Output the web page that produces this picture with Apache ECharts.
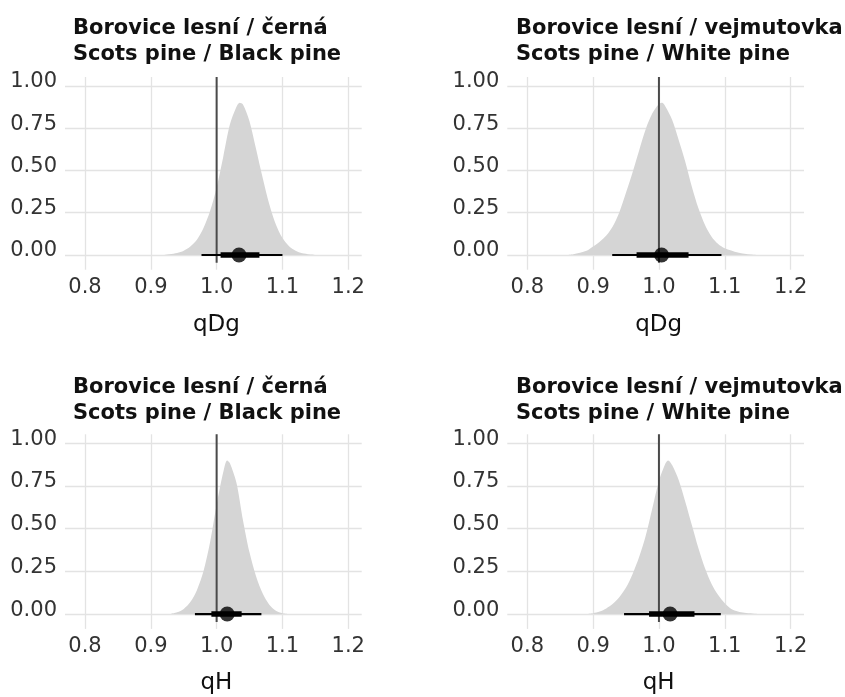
<!DOCTYPE html>
<html><head><meta charset="utf-8">
<script src="https://cdn.jsdelivr.net/npm/echarts@6/dist/echarts.min.js"></script>
<style>html,body{margin:0;padding:0;background:#fff}#c{width:845px;height:697px}</style>
</head><body><div id="c"></div>
<script>
// ---- data ----
const xTicks = [0.8, 0.9, 1.0, 1.1, 1.2];
const yTicks = [0, 0.25, 0.5, 0.75, 1.0];
const titleCz = ['Borovice lesní / černá', 'Borovice lesní / vejmutovka', 'Borovice lesní / černá', 'Borovice lesní / vejmutovka'];
const titleEn = ['Scots pine / Black pine', 'Scots pine / White pine', 'Scots pine / Black pine', 'Scots pine / White pine'];
const axisNames = ['qDg', 'qDg', 'qH', 'qH'];
const refX = 1.0;
const refLineY = [-0.046, 1.053];

const dens1X = [0.92, 0.94, 0.95, 0.96, 0.97, 0.98, 0.99, 1.00, 1.01, 1.02, 1.03, 1.035, 1.04, 1.05, 1.06, 1.07, 1.08, 1.09, 1.10, 1.11, 1.12, 1.13, 1.15];
const dens1Y = [0, 0.012, 0.025, 0.05, 0.09, 0.16, 0.26, 0.40, 0.58, 0.77, 0.875, 0.90, 0.89, 0.79, 0.625, 0.455, 0.30, 0.18, 0.10, 0.052, 0.025, 0.01, 0];

const dens2X = [0.86, 0.87, 0.89, 0.90, 0.91, 0.92, 0.93, 0.94, 0.95, 0.96, 0.97, 0.98, 0.99, 1.00, 1.005, 1.01, 1.02, 1.03, 1.04, 1.05, 1.06, 1.07, 1.08, 1.09, 1.10, 1.12, 1.14, 1.15];
const dens2Y = [0, 0.005, 0.025, 0.05, 0.078, 0.115, 0.17, 0.255, 0.37, 0.49, 0.62, 0.745, 0.838, 0.893, 0.90, 0.877, 0.80, 0.68, 0.552, 0.404, 0.276, 0.178, 0.108, 0.065, 0.04, 0.015, 0.003, 0];

const dens3X = [0.93, 0.94, 0.95, 0.96, 0.97, 0.98, 0.99, 1.00, 1.01, 1.016, 1.02, 1.03, 1.04, 1.05, 1.06, 1.07, 1.08, 1.09, 1.10, 1.11];
const dens3Y = [0, 0.01, 0.03, 0.07, 0.14, 0.25, 0.42, 0.64, 0.83, 0.90, 0.885, 0.77, 0.55, 0.36, 0.22, 0.12, 0.055, 0.02, 0.005, 0];

const dens4X = [0.89, 0.90, 0.91, 0.92, 0.93, 0.94, 0.95, 0.96, 0.97, 0.98, 0.99, 1.00, 1.01, 1.014, 1.02, 1.03, 1.04, 1.05, 1.06, 1.07, 1.08, 1.09, 1.10, 1.11, 1.12, 1.13, 1.15];
const dens4Y = [0, 0.005, 0.015, 0.033, 0.06, 0.10, 0.155, 0.235, 0.335, 0.46, 0.62, 0.78, 0.883, 0.90, 0.873, 0.785, 0.658, 0.521, 0.385, 0.268, 0.176, 0.111, 0.063, 0.03, 0.015, 0.007, 0];

const median = [1.034, 1.004, 1.016, 1.017];
const lo66 = [1.006, 0.966, 0.992, 0.985];
const hi66 = [1.065, 1.045, 1.038, 1.054];
const lo95 = [0.977, 0.929, 0.967, 0.947];
const hi95 = [1.100, 1.095, 1.068, 1.094];

const densX = [dens1X, dens2X, dens3X, dens4X];
const densY = [dens1Y, dens2Y, dens3Y, dens4Y];

// ---- layout ----
const FONT = 'DejaVu Sans';
const xMin = 0.7696, xMax = 1.2204, yMin = -0.087, yMax = 1.053;
const grids = [
  {left: 65, top: 77, width: 296.7, height: 192.7},
  {left: 507.3, top: 77, width: 296.7, height: 192.7},
  {left: 65, top: 434.3, width: 296.7, height: 194.6},
  {left: 507.3, top: 434.3, width: 296.7, height: 194.6}
];
const titlePos = [{left: 73, top: 16}, {left: 516, top: 16}, {left: 73, top: 375}, {left: 516, top: 375}];
const nameGaps = [44, 44, 43, 43];

const option = {
  backgroundColor: '#fff',
  animation: false,
  title: titlePos.map((p, i) => ({
    left: p.left, top: p.top, padding: 0,
    text: titleCz[i] + '\n' + titleEn[i],
    textStyle: {fontFamily: FONT, fontWeight: 'bold', fontSize: 21, lineHeight: 26, color: '#111'}
  })),
  grid: grids.map(g => Object.assign({containLabel: false, outerBoundsMode: 'none'}, g)),
  xAxis: grids.map((g, i) => ({
    type: 'value', gridIndex: i, min: xMin, max: xMax,
    name: axisNames[i], nameLocation: 'middle', nameGap: nameGaps[i],
    nameTextStyle: {fontFamily: FONT, fontSize: 23, lineHeight: 23, color: '#111', padding: [0, 0, 0, 6]},
    axisLine: {show: false},
    axisTick: {show: false, customValues: xTicks},
    axisLabel: {customValues: xTicks, formatter: v => v.toFixed(1), fontFamily: FONT, fontSize: 21, lineHeight: 21, color: '#333', margin: 7},
    splitLine: {show: true, lineStyle: {color: '#e3e3e3', width: 1.3}}
  })),
  yAxis: grids.map((g, i) => ({
    type: 'value', gridIndex: i, min: yMin, max: yMax,
    axisLine: {show: false},
    axisTick: {show: false, customValues: yTicks},
    axisLabel: {customValues: yTicks, formatter: v => v.toFixed(2), fontFamily: FONT, fontSize: 21, lineHeight: 8, verticalAlign: 'bottom', color: '#333', margin: 8},
    splitLine: {show: true, lineStyle: {color: '#e3e3e3', width: 1.3}}
  })),
  series: []
};

for (let i = 0; i < 4; i++) {
  option.series.push({
    type: 'line', xAxisIndex: i, yAxisIndex: i, smooth: 0.3, showSymbol: false, symbol: 'none',
    data: densX[i].map((x, k) => [x, densY[i][k]]),
    lineStyle: {width: 0}, areaStyle: {color: '#d5d5d5', opacity: 1}, z: 2
  });
  option.series.push({
    type: 'line', xAxisIndex: i, yAxisIndex: i, showSymbol: false, symbol: 'none',
    data: refLineY.map(y => [refX, y]),
    lineStyle: {color: '#4a4a4a', width: 2}, z: 3
  });
  option.series.push({
    type: 'line', xAxisIndex: i, yAxisIndex: i, showSymbol: false, symbol: 'none',
    data: [[lo95[i], 0], [hi95[i], 0]],
    lineStyle: {color: '#000', width: 2.2}, z: 4
  });
  option.series.push({
    type: 'line', xAxisIndex: i, yAxisIndex: i, showSymbol: false, symbol: 'none',
    data: [[lo66[i], 0], [hi66[i], 0]],
    lineStyle: {color: '#000', width: 5.5}, z: 5
  });
  option.series.push({
    type: 'scatter', xAxisIndex: i, yAxisIndex: i, symbol: 'circle', symbolSize: 15,
    data: [[median[i], 0]],
    itemStyle: {color: '#000'}, z: 6
  });
}

const chart = echarts.init(document.getElementById('c'), null, {renderer: 'canvas'});
chart.setOption(option);
</script></body></html>
